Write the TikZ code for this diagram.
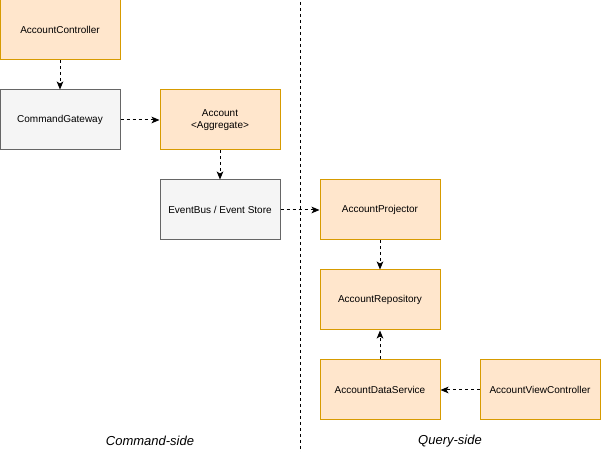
\documentclass[tikz,border=0pt]{standalone}
\usepackage{fontspec}
\setmainfont{Liberation Sans}
\usetikzlibrary{arrows.meta}
\definecolor{ofill}{HTML}{FFE6CC}
\definecolor{ostroke}{HTML}{D79B00}
\definecolor{gfill}{HTML}{F5F5F5}
\definecolor{gstroke}{HTML}{666666}
\begin{document}
\begin{tikzpicture}[x=0.75pt,y=-0.75pt,
  box/.style={rectangle,minimum width=90pt,minimum height=45pt,inner sep=0pt,font=\fontsize{7.5pt}{9pt}\selectfont,align=center,line width=0.75pt},
  obox/.style={box,draw=ostroke,fill=ofill},
  gbox/.style={box,draw=gstroke,fill=gfill},
  conn/.style={draw=black,line width=0.75pt,dash pattern=on 2.25pt off 2.25pt,-{Stealth[length=6pt,width=5pt,inset=1.5pt]}},
  sidelabel/.style={font=\fontsize{9.75pt}{11pt}\selectfont\itshape}]
\useasboundingbox (0,0) rectangle (601,452);
\draw[line width=0.75pt,dash pattern=on 2.25pt off 2.25pt] (300,2) coordinate (ltop) -- (300,452) coordinate (lbot);
\node[obox] (ac) at (60,30) {AccountController};
\node[gbox] (cg) at (60,120) {CommandGateway};
\node[obox] (agg) at (220,120) {Account\\\textless Aggregate\textgreater};
\node[gbox] (eb) at (220,210) {EventBus / Event Store};
\node[obox] (ap) at (380,210) {AccountProjector};
\node[obox] (ar) at (380,300) {AccountRepository};
\node[obox] (ads) at (380,390) {AccountDataService};
\node[obox] (avc) at (540,390) {AccountViewController};
\node[sidelabel] (cs) at (150,441) {Command-side};
\node[sidelabel] (qs) at (450,441) {Query-side};
\draw[conn] (ac) -- (cg);
\draw[conn] (cg) -- (agg);
\draw[conn] (agg) -- (eb);
\draw[conn] (eb) -- (ap);
\draw[conn] (ap) -- (ar);
\draw[conn] (ads) -- (ar);
\draw[conn] (avc) -- (ads);
\end{tikzpicture}
\end{document}
